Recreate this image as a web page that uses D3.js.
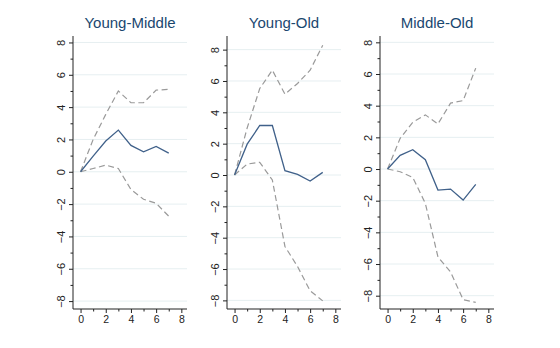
<!DOCTYPE html>
<html>
<head>
<meta charset="utf-8">
<script src="https://cdnjs.cloudflare.com/ajax/libs/d3/7.8.5/d3.min.js"></script>
<style>
  body { margin: 0; background: #fff; }
  svg { display: block; font-family: "Liberation Sans", Arial, sans-serif; }
</style>
</head>
<body>
<div id="chart"></div>
<script>
// impulse responses: point estimate with upper and lower bands, horizons 0..7
const steps = [0, 1, 2, 3, 4, 5, 6, 7];
const titles = ["Young-Middle", "Young-Old", "Middle-Old"];

const ymEst = [0, 0.97, 1.9, 2.58, 1.63, 1.24, 1.57, 1.15];
const ymUpper = [0, 2.0, 3.55, 5.0, 4.27, 4.27, 5.05, 5.1];
const ymLower = [0, 0.2, 0.41, 0.2, -1.1, -1.7, -1.95, -2.75];

const yoEst = [0, 1.97, 3.16, 3.16, 0.28, 0.04, -0.38, 0.17];
const yoUpper = [0, 3.0, 5.52, 6.69, 5.16, 5.84, 6.69, 8.28];
const yoLower = [0, 0.7, 0.81, -0.32, -4.56, -5.84, -7.39, -8.03];

const moEst = [0, 0.86, 1.22, 0.59, -1.33, -1.27, -1.96, -0.97];
const moUpper = [0, 1.94, 2.95, 3.42, 2.85, 4.16, 4.32, 6.37];
const moLower = [0, -0.17, -0.53, -2.17, -5.55, -6.5, -8.25, -8.42];

const yTicks = [-8, -6, -4, -2, 0, 2, 4, 6, 8];
const xTicks = [0, 2, 4, 6, 8];

const width = 560, height = 348;

// each panel: plot box and the y range its axis spans
const panels = [
  { title: titles[0], est: ymEst, upper: ymUpper, lower: ymLower,
    left: 73, right: 187, yDomain: [-8.49, 8.4] },
  { title: titles[1], est: yoEst, upper: yoUpper, lower: yoLower,
    left: 227, right: 341, yDomain: [-8.55, 8.87] },
  { title: titles[2], est: moEst, upper: moUpper, lower: moLower,
    left: 380, right: 494, yDomain: [-8.84, 8.4] }
];
const plotTop = 36, plotBottom = 309;

const svg = d3.select("#chart").append("svg")
  .attr("width", width)
  .attr("height", height)
  .attr("viewBox", [0, 0, width, height].join(" "));

panels.forEach(function(p) {
  let x = d3.scaleLinear().domain([-0.6, 8.45]).range([p.left, p.right]);
  let y = d3.scaleLinear().domain(p.yDomain).range([plotBottom, plotTop]);
  let g = svg.append("g");

  // light horizontal grid at the labelled values
  g.append("g")
    .selectAll("line")
    .data(yTicks.filter(function(d) { return d < p.yDomain[1] - 0.3; }))
    .enter().append("line")
      .attr("x1", p.left).attr("x2", p.right)
      .attr("y1", function(d) { return y(d); })
      .attr("y2", function(d) { return y(d); })
      .attr("stroke", "#e6eff1")
      .attr("stroke-width", 1);

  // y axis with vertical labels and minor ticks between them
  let yAxis = g.append("g")
    .attr("transform", "translate(" + p.left + ",0)")
    .call(d3.axisLeft(y).tickValues(yTicks).tickSize(4).tickPadding(0).tickFormat(d3.format("d")));
  yAxis.selectAll("text")
    .attr("transform", "translate(-8.5,0) rotate(-90)")
    .attr("x", 0).attr("y", 0).attr("dy", 0)
    .attr("text-anchor", "middle")
    .style("font-size", "11px")
    .style("font-family", "Liberation Sans, Arial, sans-serif")
    .attr("fill", "#222");
  yAxis.select(".domain").attr("d", "M0," + plotTop + "V" + plotBottom).attr("stroke", "#222");
  yAxis.selectAll(".tick line").attr("stroke", "#222");
  g.append("g").attr("transform", "translate(" + p.left + ",0)")
    .call(d3.axisLeft(y).tickValues([-7, -5, -3, -1, 1, 3, 5, 7]).tickSize(2.5).tickFormat(""))
    .call(function(a) { a.select(".domain").remove(); a.selectAll("line").attr("stroke", "#222"); });

  // x axis
  let xAxis = g.append("g")
    .attr("transform", "translate(0," + plotBottom + ")")
    .call(d3.axisBottom(x).tickValues(xTicks).tickSize(4).tickPadding(2.5).tickFormat(d3.format("d")));
  xAxis.selectAll("text")
    .style("font-size", "10.5px")
    .style("font-family", "Liberation Sans, Arial, sans-serif")
    .attr("fill", "#222");
  xAxis.select(".domain").attr("d", "M" + p.left + ",0H" + p.right).attr("stroke", "#222");
  xAxis.selectAll(".tick line").attr("stroke", "#222");
  g.append("g").attr("transform", "translate(0," + plotBottom + ")")
    .call(d3.axisBottom(x).tickValues([1, 3, 5, 7]).tickSize(2.5).tickFormat(""))
    .call(function(a) { a.select(".domain").remove(); a.selectAll("line").attr("stroke", "#222"); });

  let line = d3.line()
    .x(function(d, i) { return x(steps[i]); })
    .y(function(d) { return y(d); });

  [p.upper, p.lower].forEach(function(band) {
    g.append("path")
      .attr("d", line(band))
      .attr("fill", "none")
      .attr("stroke", "#9a9a9a")
      .attr("stroke-width", 1.2)
      .attr("stroke-dasharray", "6,3.5");
  });

  g.append("path")
    .attr("d", line(p.est))
    .attr("fill", "none")
    .attr("stroke", "#40618a")
    .attr("stroke-width", 1.3);

  g.append("text")
    .attr("x", (p.left + p.right) / 2)
    .attr("y", 28)
    .attr("text-anchor", "middle")
    .style("font-size", "15px")
    .attr("fill", "#1a476f")
    .text(p.title);
});
</script>
</body>
</html>
